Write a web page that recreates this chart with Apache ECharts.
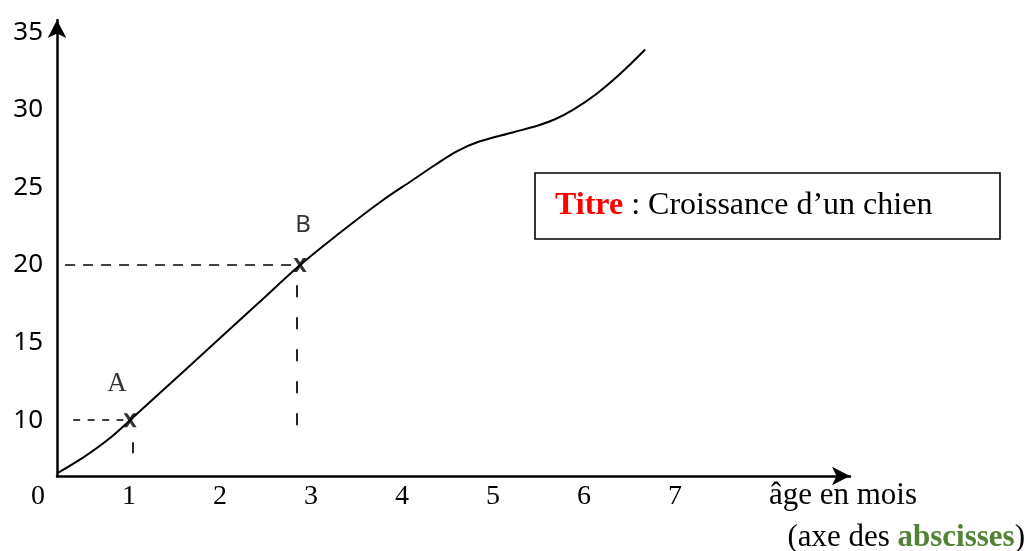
<!DOCTYPE html>
<html>
<head>
<meta charset="utf-8">
<script src="https://cdn.jsdelivr.net/npm/echarts@6/dist/echarts.min.js"></script>
<style>
  html, body { margin: 0; padding: 0; background: #fff; }
  #chart { width: 1029px; height: 551px; }
</style>
</head>
<body>
<div id="chart"></div>
<script>
// courbe : âge (mois) / masse
var ageMois = [0.15, 0.45, 0.73, 1.0, 1.35, 1.94, 2.5, 3.0, 3.45, 3.94, 4.33, 4.6, 4.85, 5.1, 5.5, 5.8, 6.0, 6.21, 6.49, 6.76, 7.06];
var masse   = [6.6, 7.6, 8.7, 10.0, 11.75, 14.7, 17.5, 20.0, 22.0, 24.05, 25.5, 26.5, 27.35, 27.95, 28.55, 29.0, 29.4, 30.0, 31.05, 32.3, 33.9];

// points repérés
var pointNoms = ['A', 'B'];
var pointX = [1, 3];
var pointY = [10, 20];

// graduations
var xTickLabels = ['0', '1', '2', '3', '4', '5', '6', '7'];
var yTickLabels = [10, 15, 20, 25, 30, 35];

// pointillés de lecture [x0, y0, x1, y1]
var pointilles = [
  [0.33, 10, 0.92, 10],
  [0.235, 20, 2.94, 20],
  [1.035, 8.58, 1.035, 7.87],
  [2.965, 18.7, 2.965, 9.36]
];
var dashTypes = [[7, 7.5], [10, 8], [12, 20], [12, 20]];

var chart = echarts.init(document.getElementById('chart'));

var serif = '"Liberation Serif", "Times New Roman", serif';
var sans = '"Noto Sans", "Open Sans", sans-serif';

var courbe = ageMois.map(function (x, i) { return [x, masse[i]]; });

var marks = pointilles.map(function (s, i) {
  return [
    { coord: [s[0], s[1]], lineStyle: { type: dashTypes[i], color: '#000', width: 1.7 } },
    { coord: [s[2], s[3]] }
  ];
});

// petite croix "x"
var xPath = 'path://M0,0 L2.8,0 L5,3 L7.2,0 L10,0 L6.5,5 L10,10 L7.2,10 L5,7 L2.8,10 L0,10 L3.5,5 Z';

var points = pointNoms.map(function (n, i) {
  var isA = i === 0;
  return {
    value: [pointX[i], pointY[i]],
    name: n,
    label: {
      show: true,
      formatter: n,
      position: 'inside',
      offset: isA ? [-13, -36] : [3, -40],
      fontFamily: isA ? serif : sans,
      fontSize: isA ? 27 : 24,
      color: '#000'
    }
  };
});

var option = {
  animation: false,
  backgroundColor: '#fff',
  title: {
    left: 535,
    top: 172,
    text: '{t|Titre}{n| : Croissance d’un chien}',
    padding: [17, 68, 17, 20],
    borderColor: '#000',
    borderWidth: 1.6,
    textStyle: {
      fontWeight: 'normal',
      rich: {
        t: { fontFamily: serif, fontSize: 32, fontWeight: 'bold', color: '#ff0000', lineHeight: 34 },
        n: { fontFamily: serif, fontSize: 32, fontWeight: 'normal', color: '#000', lineHeight: 34 }
      }
    }
  },
  grid: [
    { left: 57, right: 179, top: 20, bottom: 75, outerBoundsMode: 'none' },
    { left: 38, right: 263, top: 20, bottom: 75, outerBoundsMode: 'none' }
  ],
  xAxis: [
    {
      type: 'value',
      gridIndex: 0,
      min: 0.14,
      max: 9.47,
      name: '{a|âge en mois}\n{b|(axe des }{c|abscisses}{b|)}',
      nameLocation: 'end',
      nameGap: 175,
      nameTextStyle: {
        align: 'right',
        verticalAlign: 'top',
        rich: {
          a: { fontFamily: serif, fontSize: 31, color: '#000', lineHeight: 40, padding: [0, 108, 0, 0] },
          b: { fontFamily: serif, fontSize: 31, color: '#000', lineHeight: 44 },
          c: { fontFamily: serif, fontSize: 31, color: '#538135', fontWeight: 'bold', lineHeight: 44 }
        }
      },
      axisLine: {
        show: true,
        onZero: false,
        symbol: ['none', 'arrow'],
        symbolSize: [14, 18],
        lineStyle: { color: '#000', width: 2.5 }
      },
      axisTick: { show: false },
      axisLabel: { show: false },
      splitLine: { show: false }
    },
    {
      type: 'value',
      gridIndex: 1,
      min: 0,
      max: 8,
      interval: 1,
      axisLine: { show: false },
      axisTick: { show: false },
      splitLine: { show: false },
      axisLabel: {
        margin: 7,
        fontFamily: serif,
        fontSize: 28,
        color: '#000',
        formatter: function (v) {
          return xTickLabels.indexOf(String(v)) >= 0 ? String(v) : '';
        }
      }
    }
  ],
  yAxis: [
    {
      type: 'value',
      gridIndex: 0,
      min: 6.4,
      max: 35.8,
      splitNumber: 5,
      axisLine: {
        show: true,
        onZero: false,
        symbol: ['none', 'arrow'],
        symbolSize: [14, 18],
        lineStyle: { color: '#000', width: 2.5 }
      },
      axisTick: { show: false },
      splitLine: { show: false },
      axisLabel: {
        margin: 14,
        fontFamily: sans,
        fontSize: 26,
        color: '#000',
        formatter: function (v) {
          return yTickLabels.indexOf(Math.round(v * 100) / 100) >= 0 ? String(v) : '';
        }
      }
    },
    { type: 'value', gridIndex: 1, min: 0, max: 1, show: false }
  ],
  series: [
    {
      type: 'line',
      xAxisIndex: 0,
      yAxisIndex: 0,
      data: courbe,
      smooth: 0.35,
      symbol: 'none',
      lineStyle: { color: '#000', width: 2 },
      markLine: {
        silent: true,
        symbol: ['none', 'none'],
        label: { show: false },
        data: marks
      }
    },
    {
      type: 'scatter',
      xAxisIndex: 0,
      yAxisIndex: 0,
      symbol: xPath,
      symbolSize: [13, 14],
      itemStyle: { color: '#000' },
      data: points,
      z: 5
    }
  ]
};

chart.setOption(option);
window.addEventListener('resize', function () { chart.resize(); });
</script>
</body>
</html>
